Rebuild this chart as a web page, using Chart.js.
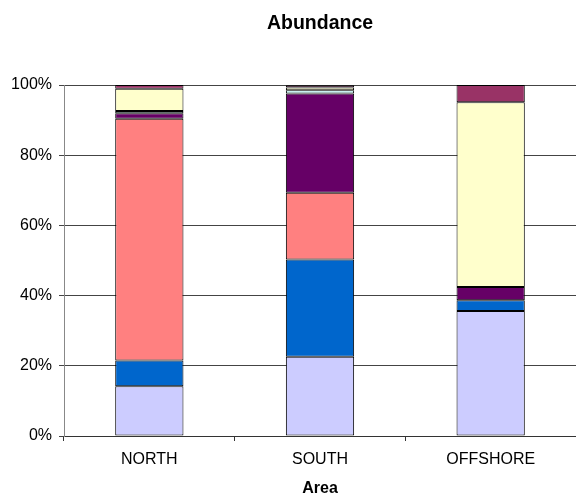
<!DOCTYPE html>
<html>
<head>
<meta charset="utf-8">
<script src="https://cdn.jsdelivr.net/npm/chart.js@4.4.1/dist/chart.umd.min.js"></script>
<style>
    html, body { margin: 0; padding: 0; background: #fff; }
    #chart { display: block; }
</style>
</head>
<body>
<canvas id="chart" width="576" height="495"></canvas>
<script>
const areas = ["NORTH", "SOUTH", "OFFSHORE"];
const yTicks = [0, 20, 40, 60, 80, 100];

// share of each group per area (percent), bottom of the stack first
const group1 = [14.2, 22.6, 35.6];
const group2 = [7.3, 27.7, 3.05];
const group3 = [68.9, 19.0, 0];
const group4 = [1.55, 28.3, 3.8];
const group5 = [0.65, 0.9, 0];
const group6 = [6.35, 0.8, 52.6];
const group7 = [1.05, 0.65, 4.95];

const groups = [group1, group2, group3, group4, group5, group6, group7];
const palette = ["#ccccff", "#0066cc", "#ff8080", "#660066", "#ccffff", "#ffffcc", "#993366"];

const font = "Arial, 'Liberation Sans', sans-serif";

new Chart(document.querySelector("#chart"), {
    type: "bar",
    data: {
        labels: areas,
        datasets: groups.map((values, idx) => ({
            label: "Group " + (idx + 1),
            data: values,
            backgroundColor: palette[idx],
            borderColor: "#000",
            borderWidth: 1,
            borderSkipped: false,
            categoryPercentage: 1,
            barPercentage: 0.4
        }))
    },
    options: {
        responsive: false,
        animation: false,
        layout: { padding: 0 },
        plugins: {
            legend: { display: false },
            tooltip: { enabled: false },
            title: {
                display: true,
                text: "Abundance",
                fullSize: false,
                color: "#000",
                font: { family: font, size: 19.5, weight: "bold", lineHeight: 1.2 },
                padding: { top: 12, bottom: 49.6 }
            }
        },
        scales: {
            x: {
                stacked: true,
                afterFit: scale => { scale.height = 59; },
                grid: {
                    drawOnChartArea: false,
                    color: "#333",
                    tickLength: 5
                },
                border: { color: "#333", width: 1 },
                ticks: {
                    color: "#000",
                    padding: 9,
                    font: { family: font, size: 16 }
                },
                title: {
                    display: true,
                    text: "Area",
                    color: "#000",
                    padding: 0,
                    font: { family: font, size: 16, weight: "bold", lineHeight: 0.8 }
                }
            },
            y: {
                stacked: true,
                min: 0,
                max: 100,
                afterFit: scale => { scale.width = 64; },
                afterBuildTicks: scale => { scale.ticks = yTicks.map(v => ({ value: v })); },
                grid: {
                    color: "#444",
                    tickLength: 5
                },
                border: { color: "#888", width: 1 },
                ticks: {
                    color: "#000",
                    padding: 7,
                    font: { family: font, size: 16 },
                    callback: v => v + "%"
                }
            }
        }
    }
});
</script>
</body>
</html>
